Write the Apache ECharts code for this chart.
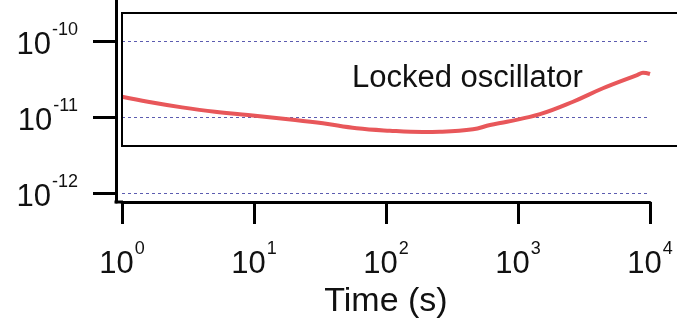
<!DOCTYPE html>
<html>
<head>
<meta charset="utf-8">
<script src="https://cdn.jsdelivr.net/npm/echarts@6/dist/echarts.min.js"></script>
<style>
  html, body { margin: 0; padding: 0; background: #fff; }
  #chart { width: 677px; height: 327px; }
</style>
</head>
<body>
<div id="chart"></div>
<script>
// Allan deviation of the locked oscillator versus averaging time
const times = [1, 1.57, 2.85, 5.06, 9.0, 20.5, 33.3, 60, 107, 190, 256, 456, 614, 826, 1468, 2612, 4400, 7980, 8850, 10000];
const deviation = [1.85e-11, 1.59e-11, 1.34e-11, 1.17e-11, 1.06e-11, 9.14e-12, 8.26e-12, 7.1e-12, 6.6e-12, 6.35e-12, 6.4e-12, 6.89e-12, 7.85e-12, 8.67e-12, 1.09e-11, 1.59e-11, 2.39e-11, 3.57e-11, 3.83e-11, 3.68e-11];

// decade ticks on both axes
const xTicks = [1, 10, 100, 1000, 10000];
const yTicks = [1e-12, 1e-11, 1e-10];

const seriesName = 'Locked oscillator';
const xTitle = 'Time (s)';

const FONT = 'Liberation Sans, Arial, sans-serif';

function powLabel(v) {
  const e = Math.round(Math.log10(v));
  return '{b|10}{e|' + e + '}';
}

const richLabel = {
  b: { fontSize: 31, fontFamily: FONT, color: '#111', lineHeight: 40, verticalAlign: 'bottom' },
  e: { fontSize: 18, fontFamily: FONT, color: '#111', lineHeight: 40, verticalAlign: 'top', padding: [0, 0, 0, 1] }
};

const chart = echarts.init(document.getElementById('chart'), null, { renderer: 'canvas' });

chart.setOption({
  animation: false,
  backgroundColor: '#fff',
  grid: { left: 122, right: 27, top: 0, bottom: 125, containLabel: false },
  xAxis: {
    type: 'log',
    logBase: 10,
    min: 1,
    max: 10000,
    name: xTitle,
    nameLocation: 'middle',
    nameGap: 78,
    nameTextStyle: { fontSize: 34, fontFamily: FONT, color: '#111' },
    axisLine: { onZero: false, lineStyle: { color: '#000', width: 3 } },
    axisTick: { show: true, length: 22, inside: false, lineStyle: { color: '#000', width: 3 }, customValues: xTicks },
    axisLabel: { margin: 38, formatter: powLabel, rich: richLabel, customValues: xTicks },
    splitLine: { show: false },
    minorTick: { show: false }
  },
  yAxis: {
    type: 'log',
    logBase: 10,
    min: Math.pow(10, -12.118),
    max: Math.pow(10, -9.46),
    offset: 6,
    axisLine: { lineStyle: { color: '#000', width: 3 } },
    axisTick: { show: true, length: 23, lineStyle: { color: '#000', width: 3 }, customValues: yTicks },
    axisLabel: { margin: 38, formatter: powLabel, rich: richLabel, align: 'right', customValues: yTicks },
    splitLine: { show: true, lineStyle: { color: '#5c5cb0', width: 1, type: [3, 3] } },
    minorTick: { show: false }
  },
  graphic: [
    // axis corner joining the offset y axis to the x axis
    { type: 'line', z: 10, shape: { x1: 114.5, y1: 202, x2: 123, y2: 202 }, style: { stroke: '#000', lineWidth: 3 } },
    // inset frame around the curve
    { type: 'rect', z: 5, shape: { x: 122, y: 13, width: 560, height: 133 }, style: { fill: 'none', stroke: '#000', lineWidth: 2 } },
    { type: 'text', z: 6, x: 352, y: 78, style: { text: seriesName, fontSize: 31, fontFamily: FONT, fill: '#111', verticalAlign: 'middle', align: 'left' } }
  ],
  series: [{
    name: seriesName,
    type: 'line',
    data: times.map((t, i) => [t, deviation[i]]),
    showSymbol: false,
    smooth: 0.4,
    lineStyle: { color: '#e8575a', width: 4 },
    z: 3
  }]
});
</script>
</body>
</html>
